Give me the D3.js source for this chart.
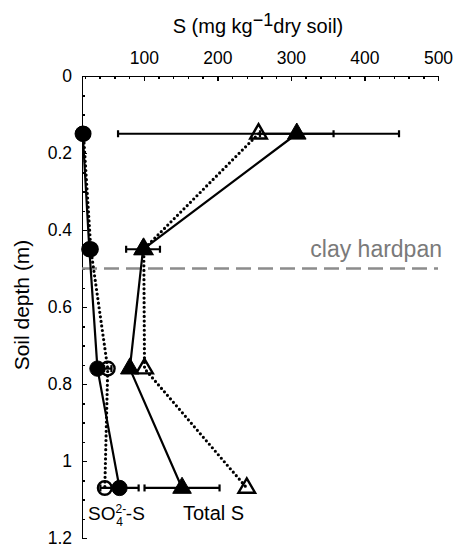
<!DOCTYPE html>
<meta charset="utf-8">
<head>
    <title>Soil S profile</title>
</head>
<style>
	body {
	  margin: 0;
	  background: #fff;
	  font-family: "Liberation Sans", Arial, sans-serif;
	}
	.axis path,
	.axis line {
		fill: none;
		stroke: #000;
		stroke-width: 1.5px;
		shape-rendering: crispEdges;
	}
	.axis text {
		font-family: "Liberation Sans", Arial, sans-serif;
		font-size: 17.5px;
		fill: #000;
	}
</style>
<body>
<script src="https://cdn.jsdelivr.net/npm/d3@7"></script>
<script>
// depths of the four sampling layers (m)
var depths = [0.15, 0.45, 0.76, 1.07];

// SO4-S, filled circles (solid line) and open circles (dotted line)
var so4Filled = [17, 26, 37, 67],
    so4FilledErr = [0, 0, 0, 26];
var so4Open = [18, 28, 51, 47],
    so4OpenErr = [0, 0, 5, 0];

// Total S, filled triangles (solid line) and open triangles (dotted line)
var totFilled = [308, 99, 81, 152],
    totFilledErr = [50, 23, 0, 51];
var totOpen = [256, 100, 101, 240],
    totOpenErr = [191, 0, 0, 0];

var xTicks = [100, 200, 300, 400, 500],
    yTicks = [0, 0.2, 0.4, 0.6, 0.8, 1, 1.2];
var hardpanDepth = 0.5;

var width = 455, height = 546;

var svg = d3.select("body").append("svg")
    .attr("width", width)
    .attr("height", height);

// setup scales
var xScale = d3.scaleLinear().domain([16, 500]).range([82, 438]),
    yScale = d3.scaleLinear().domain([0, 1.2]).range([76, 538]);

// minor ticks first (inward)
var minorX = d3.range(20, 500, 20).filter(function(v) { return v % 100 !== 0; });
var minorY = d3.range(0.05, 1.2, 0.05).filter(function(v) { return Math.abs(v * 5 - Math.round(v * 5)) > 0.01; });

svg.append("g")
    .attr("class", "axis")
    .attr("transform", "translate(0," + yScale(0) + ")")
    .call(d3.axisTop(xScale).tickValues(minorX).tickSize(-2.5).tickFormat(""))
    .select(".domain").remove();

svg.append("g")
    .attr("class", "axis")
    .attr("transform", "translate(" + xScale(16) + ",0)")
    .call(d3.axisLeft(yScale).tickValues(minorY).tickSize(-2.5).tickFormat(""))
    .select(".domain").remove();

// x-axis (top)
svg.append("g")
    .attr("class", "axis")
    .attr("transform", "translate(0," + yScale(0) + ")")
    .call(d3.axisTop(xScale).tickValues(xTicks).tickSizeInner(-5).tickSizeOuter(0).tickPadding(12));

// y-axis (left)
svg.append("g")
    .attr("class", "axis")
    .attr("transform", "translate(" + xScale(16) + ",0)")
    .call(d3.axisLeft(yScale).tickValues(yTicks).tickSizeInner(-5).tickSizeOuter(0).tickPadding(10)
        .tickFormat(function(d) { return d3.format("~g")(d); }));

// axis titles
var title = svg.append("text")
    .attr("x", 258)
    .attr("y", 33)
    .attr("text-anchor", "middle")
    .style("font-size", "20px");
title.append("tspan").text("S (mg kg");
title.append("tspan").attr("dy", -7).style("font-size", "18px").text("\u22121");
title.append("tspan").attr("dy", 7).text("dry soil)");

svg.append("text")
    .attr("transform", "translate(29,305) rotate(-90)")
    .attr("text-anchor", "middle")
    .style("font-size", "21px")
    .text("Soil depth (m)");

// clay hardpan
svg.append("line")
    .attr("x1", xScale(16)).attr("x2", xScale(500))
    .attr("y1", yScale(hardpanDepth)).attr("y2", yScale(hardpanDepth))
    .style("stroke", "#8c8c8c")
    .style("stroke-width", 2.5)
    .style("stroke-dasharray", "15,7");

svg.append("text")
    .attr("x", 442)
    .attr("y", 257)
    .attr("text-anchor", "end")
    .style("font-size", "23px")
    .style("fill", "#7a7a7a")
    .text("clay hardpan");

// series
var series = [
  {vals: so4Open, err: so4OpenErr, dotted: true, shape: d3.symbolCircle, filled: false},
  {vals: totOpen, err: totOpenErr, dotted: true, shape: d3.symbolTriangle, filled: false},
  {vals: so4Filled, err: so4FilledErr, dotted: false, shape: d3.symbolCircle, filled: true},
  {vals: totFilled, err: totFilledErr, dotted: false, shape: d3.symbolTriangle, filled: true}
];

var line = d3.line()
    .x(function(d) { return xScale(d.x); })
    .y(function(d) { return yScale(d.y); });

series.forEach(function(s) {
  var pts = s.vals.map(function(v, i) { return {x: v, y: depths[i], e: s.err[i]}; });
  s.pts = pts;
  svg.append("path")
      .datum(pts)
      .attr("d", line)
      .style("fill", "none")
      .style("stroke", "#000")
      .style("stroke-width", s.dotted ? 3.2 : 2.2)
      .style("stroke-linecap", s.dotted ? "round" : "butt")
      .style("stroke-dasharray", s.dotted ? "0,4.6" : null);
});

// markers
series.forEach(function(s) {
  var size = s.shape === d3.symbolCircle ? 185 : 150;
  svg.selectAll(null)
      .data(s.pts)
      .enter()
      .append("path")
      .attr("transform", function(d) { return "translate(" + xScale(d.x) + "," + yScale(d.y) + ")"; })
      .attr("d", d3.symbol().type(s.shape).size(s.filled ? size : size * 0.8))
      .style("fill", s.filled ? "#000" : "none")
      .style("stroke", "#000")
      .style("stroke-width", s.filled ? 1 : 2.4);
});

// error bars
series.forEach(function(s) {
  var bars = svg.selectAll(null)
      .data(s.pts.filter(function(d) { return d.e > 0; }))
      .enter()
      .append("g")
      .style("stroke", "#000")
      .style("stroke-width", 2.2);
  bars.append("line")
      .attr("x1", function(d) { return xScale(d.x - d.e); })
      .attr("x2", function(d) { return xScale(d.x + d.e); })
      .attr("y1", function(d) { return yScale(d.y); })
      .attr("y2", function(d) { return yScale(d.y); });
  [-1, 1].forEach(function(sign) {
    bars.append("line")
        .attr("x1", function(d) { return xScale(d.x + sign * d.e); })
        .attr("x2", function(d) { return xScale(d.x + sign * d.e); })
        .attr("y1", function(d) { return yScale(d.y) - 3.5; })
        .attr("y2", function(d) { return yScale(d.y) + 3.5; });
  });
});

// series labels
var so4 = svg.append("text")
    .attr("x", 88)
    .attr("y", 520)
    .style("font-size", "19px");
so4.append("tspan").text("SO");
so4.append("tspan").attr("dy", -7).style("font-size", "12px").text("2-");
so4.append("tspan").attr("dx", -10).attr("dy", 13).style("font-size", "12px").text("4");
so4.append("tspan").attr("dx", 3).attr("dy", -6).text("-S");

svg.append("text")
    .attr("x", 183)
    .attr("y", 520)
    .style("font-size", "20px")
    .text("Total S");
</script>
</body>
